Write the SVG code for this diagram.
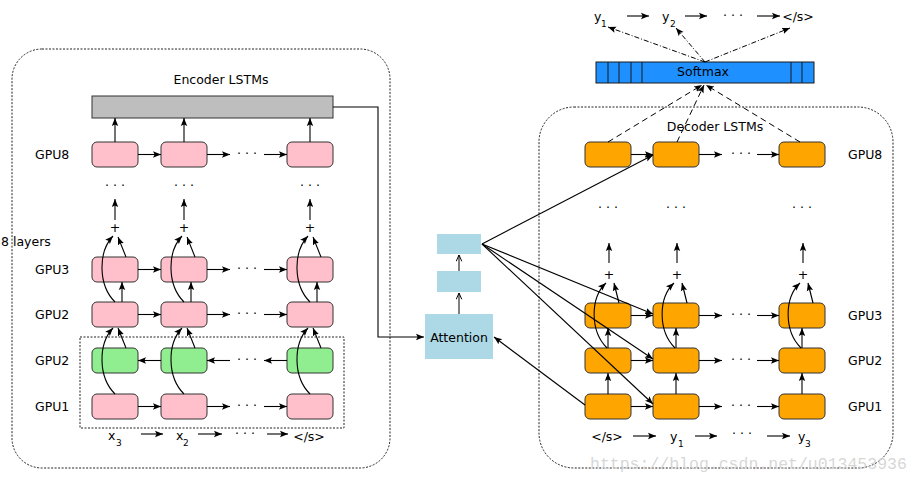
<svg xmlns="http://www.w3.org/2000/svg" width="921" height="484" viewBox="0 0 921 484">
<defs>
<marker id="ah" viewBox="0 0 10 10" refX="10" refY="5" markerWidth="8" markerHeight="8" markerUnits="userSpaceOnUse" orient="auto"><path d="M0,1 L10,5 L0,9 L2,5 z" fill="#000"/></marker>
<marker id="oh" viewBox="0 0 10 10" refX="10" refY="5" markerWidth="7" markerHeight="7" markerUnits="userSpaceOnUse" orient="auto"><path d="M1,1 L10,5 L1,9" fill="none" stroke="#000" stroke-width="1.4"/></marker>
<style>
text{font-family:"DejaVu Sans","Liberation Sans",sans-serif;font-size:12.5px;fill:#000}
.sub{font-size:9px}
.mid{text-anchor:middle}
.pink{fill:#FFC0CB;stroke:#333;stroke-width:1}
.green{fill:#90EE90;stroke:#333;stroke-width:1}
.orange{fill:#FFA500;stroke:#333;stroke-width:1}
.frame{fill:none;stroke:#222;stroke-width:1;stroke-dasharray:2,1.5}
.ln{fill:none;stroke:#000;stroke-width:1.1}
.ar{fill:none;stroke:#000;stroke-width:1.1;marker-end:url(#ah)}
.oa{fill:none;stroke:#000;stroke-width:1;marker-end:url(#oh)}
.dash{fill:none;stroke:#000;stroke-width:1;stroke-dasharray:6,4;marker-end:url(#ah)}
.dd{fill:none;stroke:#000;stroke-width:1;stroke-dasharray:5,2,1,2;marker-end:url(#ah)}
.lb{fill:#ADD8E6}
.dots{text-anchor:middle}
</style>
</defs>
<rect width="921" height="484" fill="#fff"/>

<!-- frames -->
<g id="encoder-frame">
<rect class="frame" x="12" y="49" width="378" height="419" rx="30"/>
<rect class="frame" x="80" y="337" width="264" height="91"/>
<text class="mid" x="221" y="84">Encoder LSTMs</text>
<text x="1" y="246">8 layers</text>
<text x="35" y="159">GPU8</text>
<text x="35" y="274">GPU3</text>
<text x="35" y="319">GPU2</text>
<text x="35" y="365">GPU2</text>
<text x="35" y="411">GPU1</text>
</g>
<g id="decoder-frame">
<rect class="frame" x="539" y="107" width="354" height="361" rx="35"/>
<text class="mid" x="715" y="131">Decoder LSTMs</text>
<text x="848" y="159">GPU8</text>
<text x="848" y="320">GPU3</text>
<text x="848" y="365">GPU2</text>
<text x="848" y="411">GPU1</text>
</g>

<!-- encoder nodes -->
<g id="enc-bar"><rect x="92" y="96" width="241" height="22" fill="#BEBEBE" stroke="#333"/></g>
<g id="enc-8-1"><rect class="pink" x="92" y="142" width="46" height="25" rx="5"/></g>
<g id="enc-8-2"><rect class="pink" x="161" y="142" width="46" height="25" rx="5"/></g>
<g id="enc-8-3"><rect class="pink" x="287" y="142" width="46" height="25" rx="5"/></g>
<g id="enc-3-1"><rect class="pink" x="92" y="257" width="46" height="25" rx="5"/></g>
<g id="enc-3-2"><rect class="pink" x="161" y="257" width="46" height="25" rx="5"/></g>
<g id="enc-3-3"><rect class="pink" x="287" y="257" width="46" height="25" rx="5"/></g>
<g id="enc-2-1"><rect class="pink" x="92" y="302" width="46" height="25" rx="5"/></g>
<g id="enc-2-2"><rect class="pink" x="161" y="302" width="46" height="25" rx="5"/></g>
<g id="enc-2-3"><rect class="pink" x="287" y="302" width="46" height="25" rx="5"/></g>
<g id="enc-2b-1"><rect class="green" x="92" y="348" width="46" height="25" rx="5"/></g>
<g id="enc-2b-2"><rect class="green" x="161" y="348" width="46" height="25" rx="5"/></g>
<g id="enc-2b-3"><rect class="green" x="287" y="348" width="46" height="25" rx="5"/></g>
<g id="enc-1-1"><rect class="pink" x="92" y="394" width="46" height="25" rx="5"/></g>
<g id="enc-1-2"><rect class="pink" x="161" y="394" width="46" height="25" rx="5"/></g>
<g id="enc-1-3"><rect class="pink" x="287" y="394" width="46" height="25" rx="5"/></g>

<!-- attention nodes -->
<g id="attention"><rect class="lb" x="425" y="314" width="68" height="45"/><text class="mid" x="459" y="342">Attention</text></g>
<g id="att-mid"><rect class="lb" x="437" y="271" width="44" height="21"/></g>
<g id="att-top"><rect class="lb" x="437" y="234" width="44" height="20"/></g>

<!-- softmax -->
<g id="softmax">
<rect x="596" y="62" width="218" height="21" fill="#1E90FF" stroke="#1a1a1a"/>
<path d="M608,62V83M619,62V83M631,62V83M642,62V83M791,62V83M802,62V83" stroke="#1a1a1a" fill="none"/>
<text class="mid" x="703" y="76">Softmax</text>
</g>

<!-- decoder nodes -->
<g id="dec-8-1"><rect class="orange" x="585" y="142" width="46" height="25" rx="5"/></g>
<g id="dec-8-2"><rect class="orange" x="653" y="142" width="46" height="25" rx="5"/></g>
<g id="dec-8-3"><rect class="orange" x="779" y="142" width="46" height="25" rx="5"/></g>
<g id="dec-3-1"><rect class="orange" x="585" y="303" width="46" height="25" rx="5"/></g>
<g id="dec-3-2"><rect class="orange" x="653" y="303" width="46" height="25" rx="5"/></g>
<g id="dec-3-3"><rect class="orange" x="779" y="303" width="46" height="25" rx="5"/></g>
<g id="dec-2-1"><rect class="orange" x="585" y="348" width="46" height="25" rx="5"/></g>
<g id="dec-2-2"><rect class="orange" x="653" y="348" width="46" height="25" rx="5"/></g>
<g id="dec-2-3"><rect class="orange" x="779" y="348" width="46" height="25" rx="5"/></g>
<g id="dec-1-1"><rect class="orange" x="585" y="394" width="46" height="25" rx="5"/></g>
<g id="dec-1-2"><rect class="orange" x="653" y="394" width="46" height="25" rx="5"/></g>
<g id="dec-1-3"><rect class="orange" x="779" y="394" width="46" height="25" rx="5"/></g>

<!-- labels -->
<g id="labels">
<text x="108" y="440">x</text><text class="sub" x="116" y="446">3</text>
<text x="176" y="440">x</text><text class="sub" x="183" y="446">2</text>
<text class="dots" x="245" y="438">· · ·</text>
<text class="mid" x="309" y="441">&lt;/s&gt;</text>
<text class="mid" x="607" y="441">&lt;/s&gt;</text>
<text x="670" y="441">y</text><text class="sub" x="678" y="447">1</text>
<text class="dots" x="742" y="438">· · ·</text>
<text x="798" y="441">y</text><text class="sub" x="805" y="447">3</text>
<text x="594" y="21">y</text><text class="sub" x="601" y="27">1</text>
<text x="662" y="21">y</text><text class="sub" x="670" y="27">2</text>
<text class="dots" x="733" y="20">· · ·</text>
<text class="mid" x="798" y="21">&lt;/s&gt;</text>
<!-- encoder dots & plus -->
<text class="dots" x="247" y="158">· · ·</text>
<text class="dots" x="247" y="273">· · ·</text>
<text class="dots" x="247" y="318">· · ·</text>
<text class="dots" x="247" y="364">· · ·</text>
<text class="dots" x="247" y="410">· · ·</text>
<text class="dots" x="115" y="190">· · ·</text>
<text class="dots" x="184" y="190">· · ·</text>
<text class="dots" x="310" y="190">· · ·</text>
<text class="mid" x="115" y="232">+</text>
<text class="mid" x="184" y="232">+</text>
<text class="mid" x="310" y="232">+</text>
<!-- decoder dots & plus -->
<text class="dots" x="741" y="158">· · ·</text>
<text class="dots" x="741" y="319">· · ·</text>
<text class="dots" x="741" y="364">· · ·</text>
<text class="dots" x="741" y="410">· · ·</text>
<text class="dots" x="608" y="212">· · ·</text>
<text class="dots" x="676" y="212">· · ·</text>
<text class="dots" x="802" y="212">· · ·</text>
<text class="mid" x="609" y="279">+</text>
<text class="mid" x="677" y="279">+</text>
<text class="mid" x="803" y="279">+</text>
</g>

<!-- connectors -->
<g id="connectors">
<!-- encoder horizontal -->
<path class="ar" d="M138,154.5H161"/><path class="ar" d="M207,154.5H230"/><path class="ar" d="M264,154.5H287"/>
<path class="ar" d="M138,269.5H161"/><path class="ar" d="M207,269.5H230"/><path class="ar" d="M264,269.5H287"/>
<path class="ar" d="M138,314.5H161"/><path class="ar" d="M207,314.5H230"/><path class="ar" d="M264,314.5H287"/>
<path class="ar" d="M161,360.5H138"/><path class="ar" d="M230,360.5H207"/><path class="ar" d="M287,360.5H264"/>
<path class="ar" d="M138,406.5H161"/><path class="ar" d="M207,406.5H230"/><path class="ar" d="M264,406.5H287"/>
<!-- encoder vertical to bar -->
<path class="ar" d="M115,142V118"/><path class="ar" d="M184,142V118"/><path class="ar" d="M310,142V118"/>
<path class="ar" d="M115,220V199"/><path class="ar" d="M184,220V199"/><path class="ar" d="M310,220V199"/>
<!-- encoder residuals -->
<path class="ar" d="M115,302C98,285 98,252 113,236"/><path class="ar" d="M126,257L118,237"/><path class="ar" d="M122,302V282"/>
<path class="ar" d="M184,302C167,285 167,252 182,236"/><path class="ar" d="M195,257L187,237"/><path class="ar" d="M191,302V282"/>
<path class="ar" d="M310,302C293,285 293,252 308,236"/><path class="ar" d="M321,257L313,237"/><path class="ar" d="M317,302V282"/>
<path class="ar" d="M115,394C98,377 98,344 113,328"/><path class="ar" d="M126,348L118,328"/>
<path class="ar" d="M184,394C167,377 167,344 182,328"/><path class="ar" d="M195,348L187,328"/>
<path class="ar" d="M310,394C293,377 293,344 308,328"/><path class="ar" d="M321,348L313,328"/>
<!-- encoder bottom sequence -->
<path class="ar" d="M141,434H163"/><path class="ar" d="M198,434H222"/><path class="ar" d="M267,434H288"/>
<!-- encoder to attention -->
<path class="ar" d="M333,107H378V337H424"/>
<!-- attention stack -->
<path class="oa" d="M459,314V293"/><path class="oa" d="M459,271V255"/>
<path class="ar" d="M482,244L653,155"/>
<path class="ar" d="M482,244L653,314"/>
<path class="ar" d="M482,244L653,359"/>
<path class="ar" d="M482,244L653,404"/>
<path class="ar" d="M585,405L494,337"/>
<!-- decoder horizontal -->
<path class="ar" d="M631,154.5H653"/><path class="ar" d="M699,154.5H722"/><path class="ar" d="M757,154.5H779"/>
<path class="ar" d="M631,315.5H653"/><path class="ar" d="M699,315.5H722"/><path class="ar" d="M757,315.5H779"/>
<path class="ar" d="M631,360.5H653"/><path class="ar" d="M699,360.5H722"/><path class="ar" d="M757,360.5H779"/>
<path class="ar" d="M631,406.5H653"/><path class="ar" d="M699,406.5H722"/><path class="ar" d="M757,406.5H779"/>
<!-- decoder vertical -->
<path class="ar" d="M608,394V373"/><path class="ar" d="M676,394V373"/><path class="ar" d="M802,394V373"/>
<path class="ar" d="M608,348V328"/><path class="ar" d="M676,348V328"/><path class="ar" d="M802,348V328"/>
<path class="ar" d="M609,263V243"/><path class="ar" d="M677,263V243"/><path class="ar" d="M803,263V243"/>
<!-- decoder residuals -->
<path class="ar" d="M607,348C590,331 590,298 606,283"/><path class="ar" d="M619,303L614,283"/>
<path class="ar" d="M675,348C658,331 658,298 674,283"/><path class="ar" d="M687,303L682,283"/>
<path class="ar" d="M801,348C784,331 784,298 800,283"/><path class="ar" d="M813,303L808,283"/>
<!-- decoder bottom sequence -->
<path class="ar" d="M633,436H656"/><path class="ar" d="M695,436H717"/><path class="ar" d="M767,436H790"/>
<!-- to softmax -->
<path class="dash" d="M608,142L702,85"/><path class="dash" d="M677,142L704,85"/><path class="dash" d="M800,142L706,85"/>
<!-- from softmax -->
<path class="dd" d="M705,62L608,27"/><path class="dd" d="M705,62L676,28"/><path class="dd" d="M705,62L790,28"/>
<!-- top output sequence -->
<path class="ar" d="M627,16H649"/><path class="ar" d="M685,16H707"/><path class="ar" d="M757,16H780"/>
</g>

<text x="590" y="469" style="font-family:'Liberation Mono',monospace;font-size:16.5px;fill:#cfcfcf;fill-opacity:0.85">https://blog.csdn.net/u013453936</text>
</svg>
